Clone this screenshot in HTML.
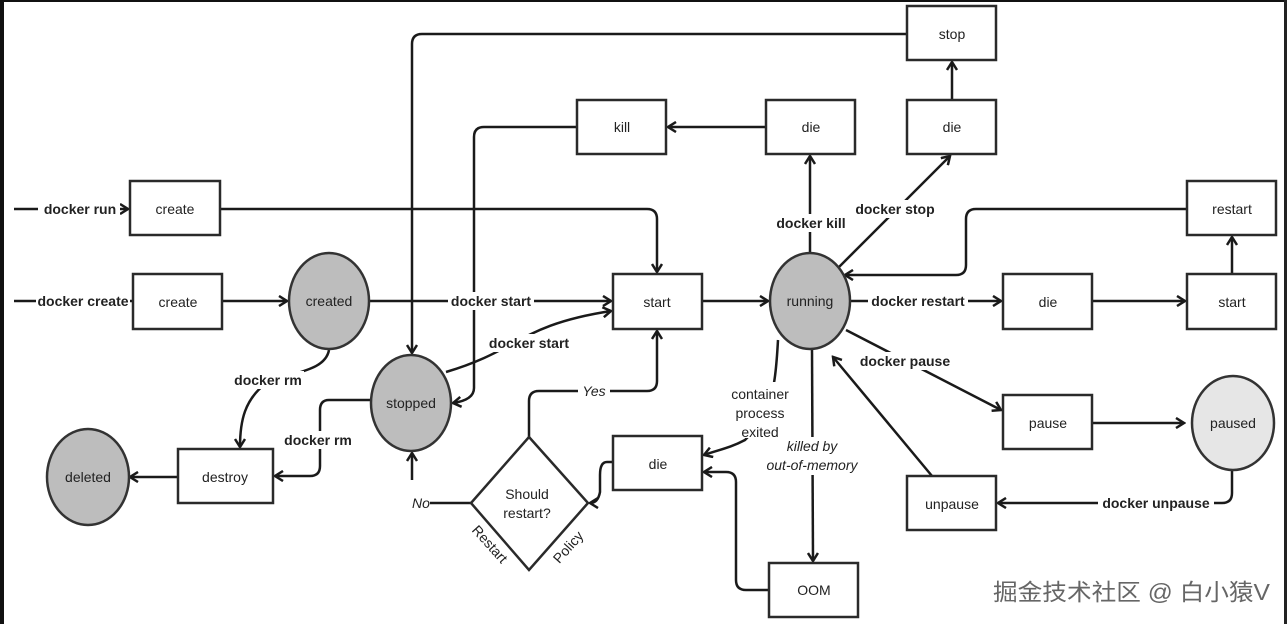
<!DOCTYPE html>
<html><head><meta charset="utf-8"><style>
html,body{margin:0;padding:0;background:#fff;width:1287px;height:624px;overflow:hidden}
svg{display:block}
text{font-family:"Liberation Sans",Arial,sans-serif;fill:#222}
.n{font-size:14px;text-anchor:middle;dominant-baseline:central}
.b{font-size:14px;font-weight:bold;text-anchor:middle;dominant-baseline:central}
.i{font-size:14px;font-style:italic;text-anchor:middle;dominant-baseline:central}
.box{fill:#fff;stroke:#2a2a2a;stroke-width:2.5}
.ell{fill:#bdbdbd;stroke:#333;stroke-width:2.5}
.l{fill:none;stroke:#1a1a1a;stroke-width:2.5}
.bg{fill:#fff}
</style></head><body>
<svg width="1287" height="624" viewBox="0 0 1287 624">
<defs>
<marker id="a" markerWidth="12" markerHeight="12" refX="10" refY="6" orient="auto" markerUnits="userSpaceOnUse">
<path d="M2,1 L10,6 L2,11" fill="none" stroke="#1a1a1a" stroke-width="2.5"/>
</marker>
</defs>
<rect x="0" y="0" width="1287" height="624" fill="#fff"/>
<rect x="0" y="0" width="4" height="624" fill="#111"/>
<rect x="0" y="0" width="1287" height="2" fill="#111"/>
<rect x="1284" y="0" width="3" height="624" fill="#222"/>

<!-- connectors -->
<path class="l" d="M14,209 H128" marker-end="url(#a)"/>
<path class="l" d="M220,209 H647 Q657,209 657,219 V272" marker-end="url(#a)"/>
<path class="l" d="M14,301 H133"/>
<path class="l" d="M222,301 H287" marker-end="url(#a)"/>
<path class="l" d="M369,301 H611" marker-end="url(#a)"/>
<path class="l" d="M907,34 H422 Q412,34 412,44 V353" marker-end="url(#a)"/>
<path class="l" d="M577,127 H484 Q474,127 474,137 V388 Q474,400 453,403" marker-end="url(#a)"/>
<path class="l" d="M766,127 H668" marker-end="url(#a)"/>
<path class="l" d="M810,253 V156" marker-end="url(#a)"/>
<path class="l" d="M838,268 L950,156" marker-end="url(#a)"/>
<path class="l" d="M952,100 V62" marker-end="url(#a)"/>
<path class="l" d="M702,301 H768" marker-end="url(#a)"/>
<path class="l" d="M850,301 H1001" marker-end="url(#a)"/>
<path class="l" d="M1092,301 H1185" marker-end="url(#a)"/>
<path class="l" d="M1232,274 V237" marker-end="url(#a)"/>
<path class="l" d="M1187,209 H976 Q966,209 966,219 V265 Q966,275 956,275 H845" marker-end="url(#a)"/>
<path class="l" d="M446,372 C520,350 520,325 611,311" marker-end="url(#a)"/>
<path class="l" d="M329,350 C325,372 290,372 265,384 C245,400 240,420 240,447" marker-end="url(#a)"/>
<path class="l" d="M371,400 H329 Q320,400 320,410 V466 Q320,476 310,476 H275" marker-end="url(#a)"/>
<path class="l" d="M178,477 H130" marker-end="url(#a)"/>
<path class="l" d="M471,503 H430"/>
<path class="l" d="M412,480 V453" marker-end="url(#a)"/>
<path class="l" d="M529,437 V401 Q529,391 539,391 H647 Q657,391 657,381 V331" marker-end="url(#a)"/>
<path class="l" d="M613,462 H607 Q600,462 600,475 V492 Q598,503 590,503" marker-end="url(#a)"/>
<path class="l" d="M778,340 C775,395 770,415 745,440 C730,448 718,450 704,455" marker-end="url(#a)"/>
<path class="l" d="M812,350 L813,561" marker-end="url(#a)"/>
<path class="l" d="M769,590 H746 Q736,590 736,580 V482 Q736,472 726,472 H704" marker-end="url(#a)"/>
<path class="l" d="M846,330 L1001,410" marker-end="url(#a)"/>
<path class="l" d="M1092,423 H1184" marker-end="url(#a)"/>
<path class="l" d="M1232,470 V493 Q1232,503 1222,503 H998" marker-end="url(#a)"/>
<path class="l" d="M932,476 L833,357" marker-end="url(#a)"/>

<!-- label backgrounds -->
<rect class="bg" x="38" y="200" width="82" height="18"/>
<rect class="bg" x="36" y="292" width="94" height="18"/>
<rect class="bg" x="448" y="292" width="86" height="18"/>
<rect class="bg" x="486" y="334" width="86" height="18"/>
<rect class="bg" x="232" y="371" width="72" height="18"/>
<rect class="bg" x="282" y="431" width="72" height="18"/>
<rect class="bg" x="772" y="214" width="78" height="18"/>
<rect class="bg" x="852" y="200" width="86" height="18"/>
<rect class="bg" x="868" y="292" width="100" height="18"/>
<rect class="bg" x="855" y="352" width="100" height="18"/>
<rect class="bg" x="1098" y="494" width="116" height="18"/>
<rect class="bg" x="578" y="382" width="32" height="18"/>
<rect class="bg" x="728" y="382" width="66" height="56"/>
<rect class="bg" x="755" y="437" width="110" height="38"/>

<!-- labels -->
<text class="b" x="80" y="209">docker run</text>
<text class="b" x="83" y="301">docker create</text>
<text class="b" x="491" y="301">docker start</text>
<text class="b" x="529" y="343">docker start</text>
<text class="b" x="268" y="380">docker rm</text>
<text class="b" x="318" y="440">docker rm</text>
<text class="b" x="811" y="223">docker kill</text>
<text class="b" x="895" y="209">docker stop</text>
<text class="b" x="918" y="301">docker restart</text>
<text class="b" x="905" y="361">docker pause</text>
<text class="b" x="1156" y="503">docker unpause</text>
<text class="i" x="594" y="391">Yes</text>
<text class="i" x="421" y="503">No</text>
<text class="n" x="760" y="394">container</text>
<text class="n" x="760" y="413">process</text>
<text class="n" x="760" y="432">exited</text>
<text class="i" x="812" y="446">killed by</text>
<text class="i" x="812" y="465">out-of-memory</text>

<!-- nodes -->
<rect class="box" x="130" y="181" width="90" height="54"/><text class="n" x="175" y="209">create</text>
<rect class="box" x="133" y="274" width="89" height="55"/><text class="n" x="178" y="302">create</text>
<ellipse class="ell" cx="329" cy="301" rx="40" ry="48"/><text class="n" x="329" y="301">created</text>
<ellipse class="ell" cx="411" cy="403" rx="40" ry="48"/><text class="n" x="411" y="403">stopped</text>
<ellipse class="ell" cx="88" cy="477" rx="41" ry="48"/><text class="n" x="88" y="477">deleted</text>
<rect class="box" x="178" y="449" width="95" height="54"/><text class="n" x="225" y="477">destroy</text>
<rect class="box" x="577" y="100" width="89" height="54"/><text class="n" x="622" y="127">kill</text>
<rect class="box" x="766" y="100" width="89" height="54"/><text class="n" x="811" y="127">die</text>
<rect class="box" x="907" y="100" width="89" height="54"/><text class="n" x="952" y="127">die</text>
<rect class="box" x="907" y="6" width="89" height="54"/><text class="n" x="952" y="34">stop</text>
<rect class="box" x="613" y="274" width="89" height="55"/><text class="n" x="657" y="302">start</text>
<ellipse class="ell" cx="810" cy="301" rx="40" ry="48"/><text class="n" x="810" y="301">running</text>
<rect class="box" x="1003" y="274" width="89" height="55"/><text class="n" x="1048" y="302">die</text>
<rect class="box" x="1187" y="274" width="89" height="55"/><text class="n" x="1232" y="302">start</text>
<rect class="box" x="1187" y="181" width="89" height="54"/><text class="n" x="1232" y="209">restart</text>
<rect class="box" x="1003" y="395" width="89" height="54"/><text class="n" x="1048" y="423">pause</text>
<ellipse cx="1233" cy="423" rx="41" ry="47" fill="#e6e6e6" stroke="#333" stroke-width="2.5"/><text class="n" x="1233" y="423">paused</text>
<rect class="box" x="907" y="476" width="89" height="54"/><text class="n" x="952" y="504">unpause</text>
<rect class="box" x="613" y="436" width="89" height="54"/><text class="n" x="658" y="464">die</text>
<rect class="box" x="769" y="563" width="89" height="54"/><text class="n" x="814" y="590">OOM</text>
<path d="M529,437 L588,503 L529,570 L471,503 Z" fill="#fff" stroke="#2a2a2a" stroke-width="2.5"/>
<text class="n" x="527" y="494">Should</text>
<text class="n" x="527" y="513">restart?</text>
<text class="n" transform="translate(490,544) rotate(48)">Restart</text>
<text class="n" transform="translate(568,547) rotate(-48)">Policy</text>

<text x="993" y="600" textLength="277" lengthAdjust="spacingAndGlyphs" style="font-family:'Liberation Sans','Noto Sans CJK SC',sans-serif;font-size:23px;fill:#666;stroke:#fff;stroke-width:2;paint-order:stroke">掘金技术社区 @ 白小猿V</text>
</svg>
</body></html>
